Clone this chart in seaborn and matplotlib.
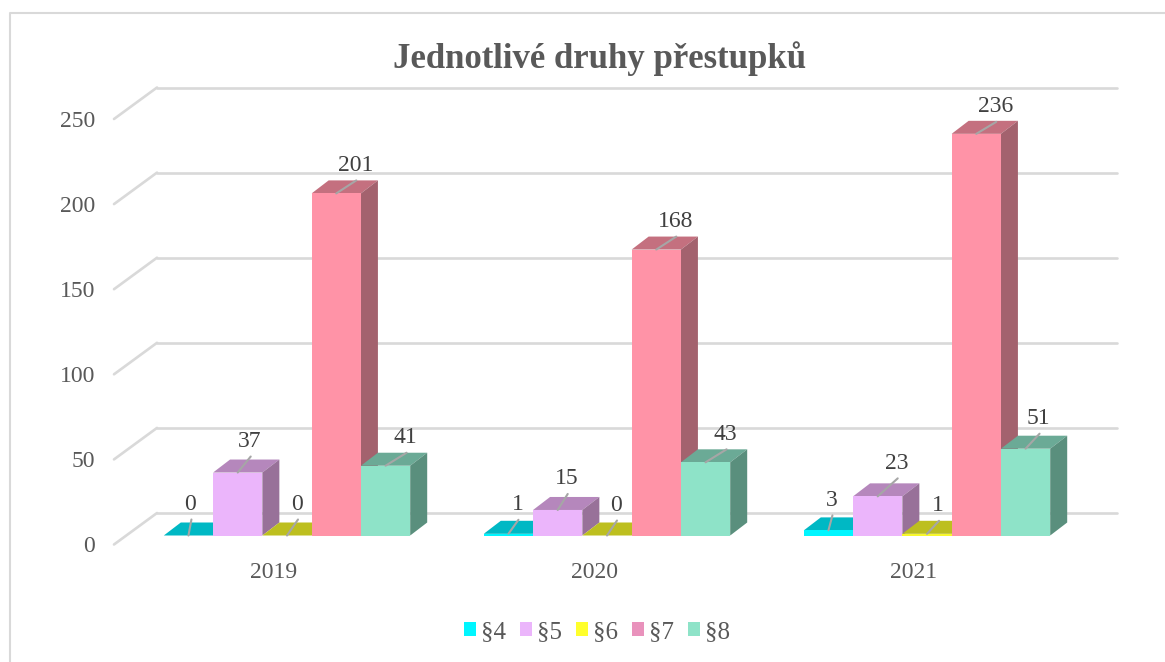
import numpy as np
import pandas as pd
import seaborn as sns
import matplotlib
matplotlib.use("Agg")
import matplotlib.pyplot as plt
from matplotlib.lines import Line2D
from matplotlib.patches import Polygon, Patch
from matplotlib.transforms import ScaledTranslation, offset_copy

years = ["2019", "2020", "2021"]
paragraphs = ["§4", "§5", "§6", "§7", "§8"]
s4 = [0, 1, 3]
s5 = [37, 15, 23]
s6 = [0, 0, 1]
s7 = [201, 168, 236]
s8 = [41, 43, 51]
series = [s4, s5, s6, s7, s8]
yticks = [0, 50, 100, 150, 200, 250]

front_colors = ["#00F6FF", "#EBB5FB", "#F8F82C", "#FF93A7", "#8EE3C8"]
top_colors = ["#00B8C4", "#B587BC", "#BDBF1F", "#C4707F", "#6BAA96"]
side_colors = ["#008F99", "#987199", "#97981A", "#A3626E", "#5A8F7D"]
legend_colors = ["#00F6FF", "#EBB5FB", "#FFFF2C", "#E992BC", "#8EE3C8"]
# leader-line ends for the data labels, pixels from the bar's front-top centre
leader_dx = [[3, 10, 4], [13, 10, 20], [11, 10, 12], [20, 20, 20], [21, 21, 14]]
leader_dy = [[16, 14, 15], [16, 16, 18], [16, 15, 13], [13, 13, 12], [13, 13, 15]]

W, H = 1165, 662
sns.set_theme(style="white")
plt.rcParams["font.family"] = ["Liberation Serif", "DejaVu Serif"]

fig = plt.figure(figsize=(W / 100, H / 100), dpi=100)
ax_left, ax_right, ax_top, ax_bottom = 127, 1087, 110, 535.5
ax = fig.add_axes([ax_left / W, 1 - ax_bottom / H,
                   (ax_right - ax_left) / W, (ax_bottom - ax_top) / H])

df = pd.DataFrame({
    "year": np.repeat(years, len(paragraphs)),
    "par": paragraphs * len(years),
    "value": [series[p][y] for y in range(len(years)) for p in range(len(paragraphs))],
})
sns.barplot(data=df, x="year", y="value", hue="par", order=years, hue_order=paragraphs,
            palette=front_colors, width=0.77, dodge=True, saturation=1, legend=False,
            errorbar=None, ax=ax, linewidth=0, zorder=3)
ax.set_xlim(-0.5, 2.5)
ax.set_ylim(0, 250)
ax.set_xlabel("")
ax.set_ylabel("")
sns.despine(ax=ax, left=True, bottom=True)
ax.patch.set_alpha(0)

# pixel -> data scale for the depth vectors
px_x = 3 / (ax_right - ax_left)
px_y = 250 / (ax_bottom - ax_top)
depth_x, depth_y = 17 * px_x, 13 * px_y

grid_color = "#D9D9D9"
back = offset_copy(ax.transData, fig=fig, x=30, y=22.5, units="dots")
for t in yticks:
    ax.plot([-0.5, 2.5], [t, t], transform=back, color=grid_color, lw=1.9,
            clip_on=False, zorder=1, solid_capstyle="round")
    ax.plot([-0.5 - 13 * px_x, -0.5 + 30 * px_x],
            [t - 9 * px_y, t + 22.5 * px_y],
            color=grid_color, lw=1.9, clip_on=False, zorder=1, solid_capstyle="round")

# 3D faces and labels, built from the bars seaborn drew
label_color = "#404040"
n_y = len(years)
for i, patch in enumerate(ax.patches[:n_y * len(paragraphs)]):
    p, y = i // n_y, i % n_y
    x0, w, h = patch.get_x(), patch.get_width(), patch.get_height()
    z = 3 + 3 * y + 0.3 * p + 0.1
    patch.set_zorder(z + 0.02)
    patch.set_edgecolor("none")
    ax.add_patch(Polygon([(x0, h), (x0 + w, h), (x0 + w + depth_x, h + depth_y), (x0 + depth_x, h + depth_y)],
                         closed=True, facecolor=top_colors[p], edgecolor="none", zorder=z, clip_on=False))
    ax.add_patch(Polygon([(x0 + w, 0), (x0 + w + depth_x, depth_y), (x0 + w + depth_x, h + depth_y), (x0 + w, h)],
                         closed=True, facecolor=side_colors[p], edgecolor="none", zorder=z, clip_on=False))
    cx = x0 + w / 2
    dx, dy = leader_dx[p][y], leader_dy[p][y]
    ax.annotate("", xy=(cx, h), xytext=(dx, dy), textcoords="offset pixels",
                arrowprops=dict(arrowstyle="-", color="#A6A6A6", lw=1.5, shrinkA=0, shrinkB=0),
                zorder=20, annotation_clip=False)
    ax.annotate(str(int(h)), xy=(cx, h), xytext=(dx - 1, dy + 15), textcoords="offset pixels",
                ha="center", va="center", fontsize=17, color=label_color, zorder=21,
                annotation_clip=False)

# ticks
ax.set_yticks(yticks)
ax.tick_params(axis="both", length=0, labelsize=17, labelcolor="#595959")
ax.tick_params(axis="y", pad=23)
ax.tick_params(axis="x", pad=19)
y_shift = ScaledTranslation(0, -9 / 100, fig.dpi_scale_trans)
x_shift = ScaledTranslation(-13 / 100, 0, fig.dpi_scale_trans)
for lab in ax.get_yticklabels():
    lab.set_transform(lab.get_transform() + y_shift)
for lab in ax.get_xticklabels():
    lab.set_transform(lab.get_transform() + x_shift)

fig.suptitle("Jednotlivé druhy přestupků", x=600 / W, y=1 - 59 / H, va="center", ha="center",
             fontsize=25, fontweight="bold", color="#595959")

handles = [Patch(facecolor=c, edgecolor="none", label=l) for c, l in zip(legend_colors, paragraphs)]
fig.legend(handles=handles, ncol=5, loc="center", bbox_to_anchor=(597 / W, 1 - 632 / H),
           frameon=False, fontsize=18, labelcolor="#595959", handlelength=0.48, handleheight=0.48,
           handletextpad=0.2, columnspacing=0.56, borderpad=0)

# chart-area frame: only the left and top edges are visible in the crop
fig.add_artist(Line2D([9.5 / W, 9.5 / W, 1], [0, 1 - 13 / H, 1 - 13 / H],
                      transform=fig.transFigure, color="#D9D9D9", lw=1.5))
fig.savefig("out.png", dpi=100)
